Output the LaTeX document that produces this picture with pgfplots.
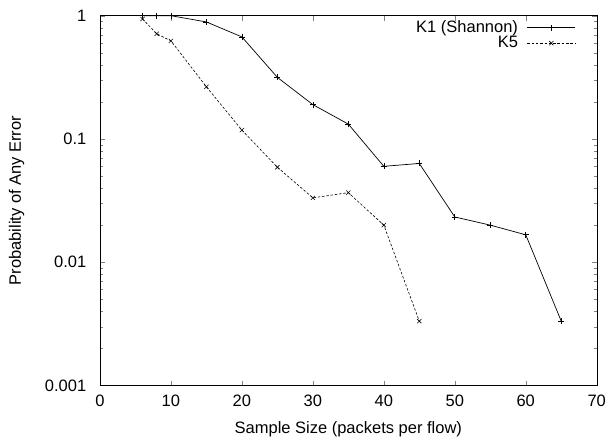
\documentclass[border=0pt]{standalone}
\usepackage{fontspec}
\setmainfont{Liberation Sans}
\usepackage{pgfplots}
\pgfplotsset{compat=1.18}

\begin{document}
\fontsize{16.5}{19}\selectfont
\begin{tikzpicture}
\begin{axis}[name=ax,
  scale only axis, width=497pt, height=370pt,
  ymode=log,
  xmin=0, xmax=70, ymin=0.001, ymax=1,
  xtick={0,10,20,30,40,50,60,70},
  ytick={0.001,0.01,0.1,1},
  yticklabels={0.001,0.01,0.1,1},
  minor ytick={}, minor xtick={},
  tick align=inside, tick pos=both,
  major tick length=5pt,
  /pgf/number format/assume math mode=true,
  tick label style={font=\fontsize{16.5}{19}\selectfont},
  xticklabel style={yshift=-4pt},
  yticklabel style={xshift=-8pt},
  xlabel={Sample Size (packets per flow)},
  ylabel={Probability of Any Error},
  xlabel style={at={(axis description cs:0.5,-0.131)}, anchor=base},
  ylabel style={at={(axis description cs:-0.168,0.5)}, anchor=center, rotate=0},
  label style={font=\fontsize{16.5}{19}\selectfont},
  legend style={draw=none, fill=none, inner sep=0pt,
    at={(axis description cs:0.958,0.988)}, anchor=north east,
    font=\fontsize{16.5}{19}\selectfont, row sep=1.5pt,
    nodes={inner sep=0pt}},
  legend cell align=right,
  legend plot pos=right,
  legend image code/.code={%
    \draw[mark repeat=2,mark phase=2,#1] plot coordinates {(0pt,0pt) (24pt,0pt) (48pt,0pt)};},
]
\addplot[black, line width=0.7pt, mark=+, mark size=3pt, mark options={solid, line width=0.6pt}] coordinates {
  (6,1.0) (8,1.0) (10,1.0) (15,0.89) (20,0.673) (25,0.316) (30,0.19)
  (35,0.132) (40,0.06) (45,0.0633) (50,0.0233) (55,0.02) (60,0.0167) (65,0.00333)
};
\addlegendentry{K1 (Shannon)\rule{9pt}{0pt}}
\addplot[black, line width=0.6pt, dash pattern=on 2.5pt off 1.8pt, mark=x, mark size=3pt, mark options={solid, line width=0.6pt}] coordinates {
  (6,0.94) (8,0.713) (10,0.625) (15,0.265) (20,0.118) (25,0.059) (30,0.0333)
  (35,0.0367) (40,0.02) (45,0.00333)
};
\addlegendentry{K5\rule{9pt}{0pt}}
\end{axis}
\path (ax.south west) ++(-100pt,-54.3pt) coordinate (bl);
\path (ax.north east) ++(16.3pt,15.7pt) coordinate (tr);
\path (bl) rectangle (tr);
\end{tikzpicture}
\end{document}
